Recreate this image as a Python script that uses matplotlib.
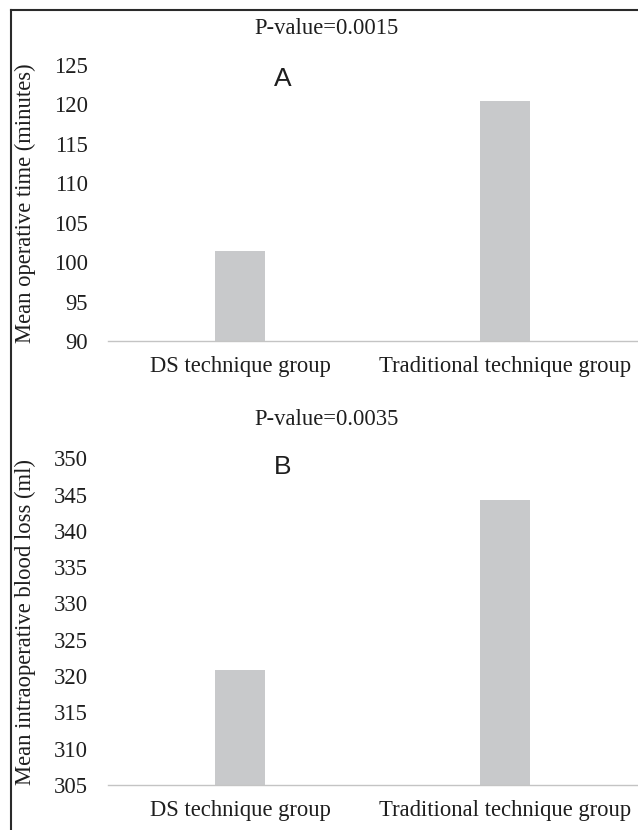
import matplotlib
matplotlib.use("Agg")
import matplotlib.pyplot as plt
from matplotlib.lines import Line2D

# data
groups = ["DS technique group", "Traditional technique group"]
op_time = [101.4, 120.4]
blood_loss = [320.8, 344.3]
p_values = ["P-value=0.0015", "P-value=0.0035"]
panel_tags = ["A", "B"]
y_labels = ["Mean operative time (minutes)", "Mean intraoperative blood loss (ml)"]

serif = "Liberation Serif"
sans = "Liberation Sans"
txt = "#1e1e1e"
bar_col = "#c8c9cb"

W, H = 638, 830
fig = plt.figure(figsize=(W / 100, H / 100), dpi=100)
fig.patch.set_facecolor("white")

def px(x, y):
    # pixel coords -> figure fraction
    return x / W, 1 - y / H

# outer frame (open on right and bottom, cropped)
fig.add_artist(Line2D([11 / W, 1.0], [1 - 10 / H] * 2, color="#2a2a2a", lw=1.5,
                      transform=fig.transFigure))
fig.add_artist(Line2D([11 / W] * 2, [0.0, 1 - 10 / H], color="#2a2a2a", lw=1.5,
                      transform=fig.transFigure))

panels = [
    dict(vals=op_time, ylim=(90, 125), ticks=range(90, 126, 5), base=341, top=64.5,
         p_y=28, tag_y=79),
    dict(vals=blood_loss, ylim=(305, 350), ticks=range(305, 351, 5), base=785, top=458.3,
         p_y=419, tag_y=467),
]

left, right = 107.5, 637.5
for i, p in enumerate(panels):
    ax = fig.add_axes([left / W, 1 - p["base"] / H, (right - left) / W,
                       (p["base"] - p["top"]) / H])
    ax.bar(range(len(groups)), [v - p["ylim"][0] for v in p["vals"]],
           bottom=p["ylim"][0], width=0.19, color=bar_col, edgecolor="none", zorder=2)
    ax.set_xlim(-0.5, 1.5)
    ax.set_ylim(*p["ylim"])
    ax.set_yticks(list(p["ticks"]))
    ax.set_xticks(range(len(groups)))
    ax.set_xticklabels(groups)
    for s in ["top", "right", "left"]:
        ax.spines[s].set_visible(False)
    ax.spines["bottom"].set_color("#c4c4c4")
    ax.spines["bottom"].set_linewidth(1.0)
    ax.tick_params(axis="y", length=0, pad=14, labelsize=16.3, labelcolor=txt)
    ax.tick_params(axis="x", length=0, pad=11, labelsize=16.3, labelcolor=txt)
    for lab in ax.get_xticklabels() + ax.get_yticklabels():
        lab.set_family(serif)
    ax.patch.set_alpha(0)

    cy = (p["base"] + p["top"]) / 2
    fig.text(25 / W, 1 - cy / H, y_labels[i], rotation=90, ha="center", va="center",
             family=serif, fontsize=16.3, color=txt)
    fig.text(*px(327, p["p_y"]), p_values[i], ha="center", va="center",
             family=serif, fontsize=16.3, color=txt)
    fig.text(*px(283, p["tag_y"]), panel_tags[i], ha="center", va="center",
             family=sans, fontsize=19, color=txt)

fig.savefig("out.png", dpi=100)
